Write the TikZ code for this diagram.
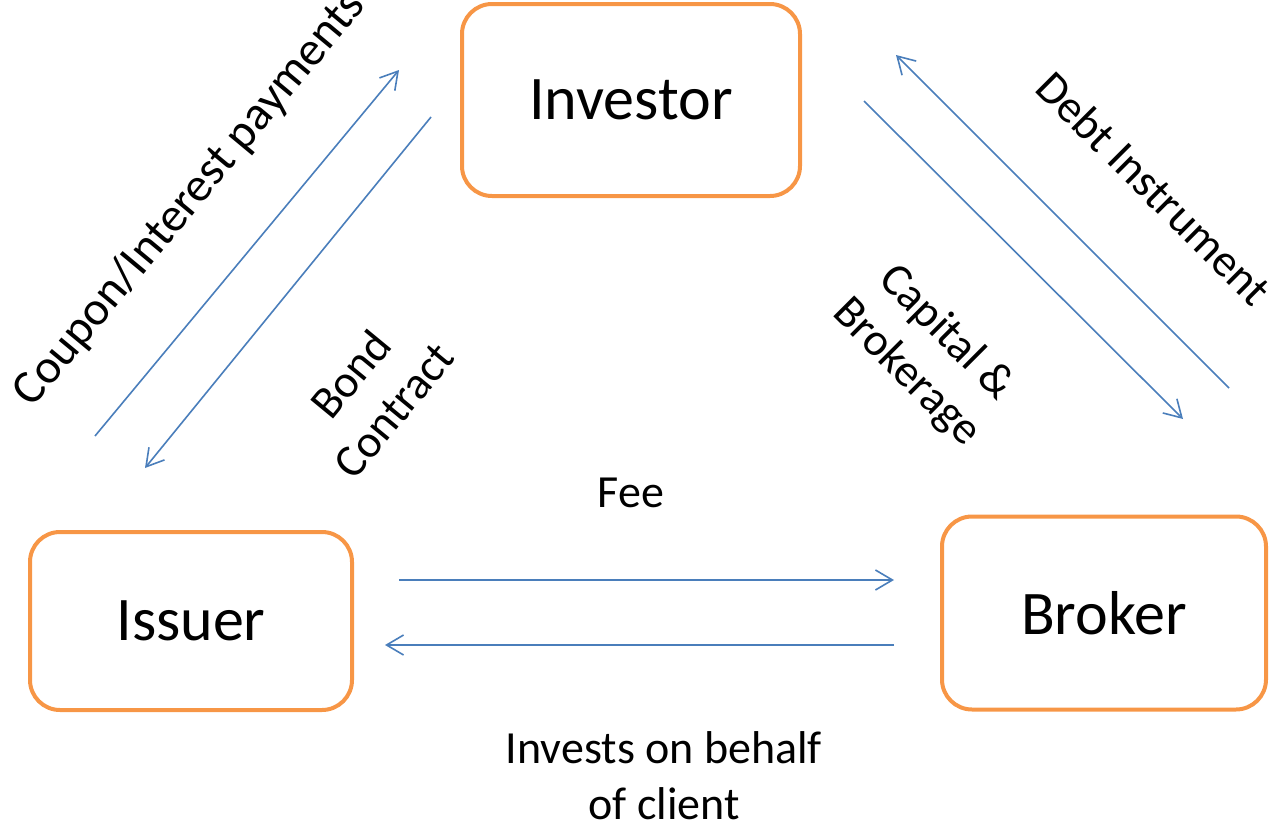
\documentclass[tikz,border=0pt]{standalone}
\usepackage{fontspec}
\setmainfont{Carlito}
\usetikzlibrary{arrows.meta}
\definecolor{boxorange}{HTML}{F79646}
\definecolor{flowblue}{HTML}{4A7EBB}
\tikzset{
  party/.style={draw=boxorange, line width=4pt, rounded corners=30pt, inner sep=0pt,
    font=\fontsize{62}{70}\selectfont},
  flow/.style={draw=flowblue, line width=1.6pt, -{Straight Barb[length=17pt,width=20pt,line width=1.6pt]}},
  lbl/.style={font=\fontsize{46}{56}\selectfont, align=center, inner sep=0pt}
}
\begin{document}
\begin{tikzpicture}[x=1pt,y=-1pt]
\useasboundingbox (0,0) rectangle (1275,825);

% parties
\node[party, minimum width=338pt, minimum height=192pt] (investor) at (631,100) {\raisebox{-3pt}{Investor}};
\node[party, minimum width=322pt, minimum height=178pt] (issuer) at (191,621) {Issuer};
\node[party, minimum width=324pt, minimum height=193pt] (broker) at (1104,613) {Broker};

% end points of the flows
\coordinate (couponA) at (95,436);   \coordinate (couponB) at (399,70);
\coordinate (bondA) at (431,117);    \coordinate (bondB) at (145,468);
\coordinate (debtA) at (1229,388);   \coordinate (debtB) at (896,55);
\coordinate (capA) at (864,101);     \coordinate (capB) at (1183,419);
\coordinate (feeA) at (399,580);     \coordinate (feeB) at (894,580);
\coordinate (invA) at (894,645);     \coordinate (invB) at (385,645);

\draw[flow] (couponA) -- (couponB);
\draw[flow] (bondA) -- (bondB);
\draw[flow] (debtA) -- (debtB);
\draw[flow] (capA) -- (capB);
\draw[flow] (feeA) -- (feeB);
\draw[flow] (invA) -- (invB);

% flow labels
\node[lbl, rotate=50.3, font=\fontsize{48}{56}\selectfont] (couponlbl) at (190,199) {Coupon/Interest payments};
\node[lbl, rotate=50.5] (bondlbl) at (372,392) {Bond\\Contract};
\node[lbl, rotate=-45] (debtlbl) at (1154,188) {Debt Instrument};
\node[lbl, rotate=-45] (caplbl) at (926,353) {Capital \&\\Brokerage};
\node[lbl] (feelbl) at (631,493) {Fee};
\node[lbl] (invlbl) at (664,776) {Invests on behalf\\of client};
\end{tikzpicture}
\end{document}
